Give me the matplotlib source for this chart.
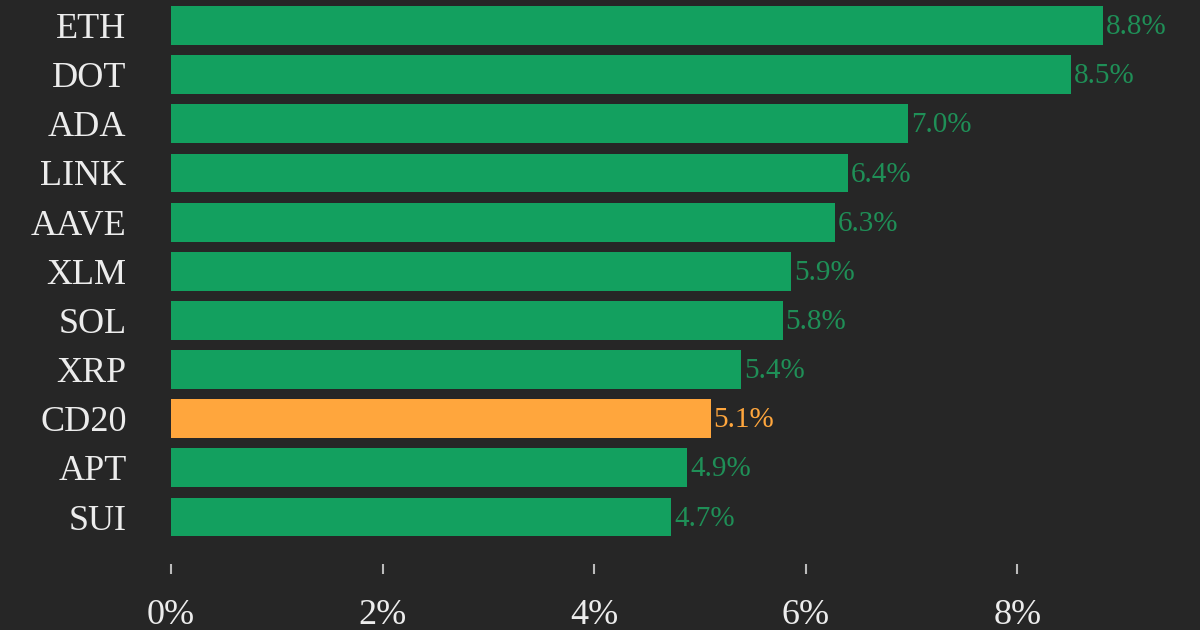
import matplotlib
matplotlib.use('Agg')
import matplotlib.pyplot as plt

tokens = ['ETH', 'DOT', 'ADA', 'LINK', 'AAVE', 'XLM', 'SOL', 'XRP', 'CD20', 'APT', 'SUI']
changes = [8.81, 8.51, 6.97, 6.40, 6.28, 5.86, 5.78, 5.39, 5.10, 4.88, 4.73]
ticks = [0, 2, 4, 6, 8]

GREEN = '#13a05f'
GREEN_TEXT = '#1f8f57'
ORANGE = '#ffa63d'
BG = '#262626'
TEXT = '#ececec'

plt.rcParams['font.family'] = ['Liberation Serif', 'DejaVu Serif']

fig = plt.figure(figsize=(12, 6.3), dpi=100, facecolor=BG)
ax = fig.add_axes([171 / 1200, 1 - 564 / 630, 1029 / 1200, 564 / 630], facecolor=BG)

colors = [ORANGE if t == 'CD20' else GREEN for t in tokens]
label_colors = [ORANGE if t == 'CD20' else GREEN_TEXT for t in tokens]
y = list(range(len(tokens)))
ax.barh(y, changes, height=0.79, color=colors)

# value labels just past the end of each bar
for i, v in enumerate(changes):
    ax.annotate(f'{v:.1f}%', (v, i), xytext=(2, 1), textcoords='offset points',
                va='center_baseline', ha='left', fontsize=21, color=label_colors[i])

ax.set_xlim(0, 1029 / 105.8)
ax.set_ylim(10.956, -0.519)
ax.set_yticks(y)
ax.set_yticklabels(tokens, fontsize=26, color=TEXT)
ax.set_xticks(ticks)
ax.set_xticklabels([f'{t}%' for t in ticks], fontsize=26, color=TEXT)
ax.tick_params(axis='y', length=0, pad=32)
ax.tick_params(axis='x', length=7, width=1.5, color='#bbbbbb', pad=18)
for s in ax.spines.values():
    s.set_visible(False)

fig.savefig('out.png', facecolor=BG)
